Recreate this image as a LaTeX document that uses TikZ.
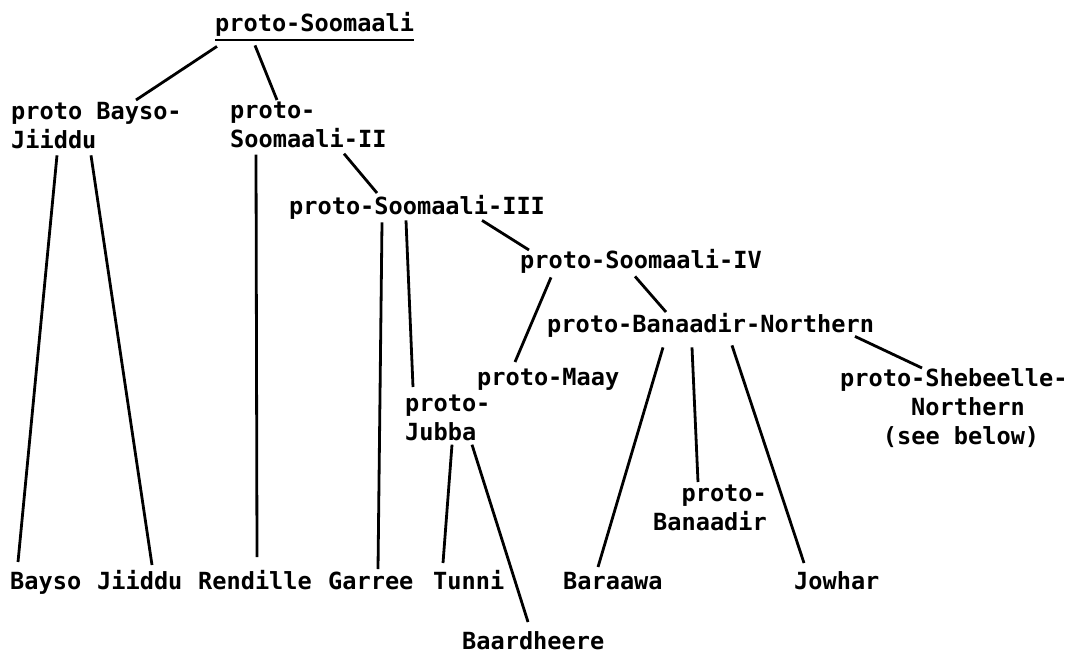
\documentclass[tikz,border=0pt]{standalone}
\usepackage{fontspec}
\newfontfamily\machine{DejaVu Sans Mono}
\usetikzlibrary{calc}

\tikzset{
  lbl/.style={font=\machine\bfseries\fontsize{23.6pt}{29pt}\selectfont,
    inner sep=0pt, anchor=north west, align=left,
    execute at begin node=\strut, execute at end node=\strut},
  branch/.style={line width=2.8pt}
}

\begin{document}
\begin{tikzpicture}[x=1pt,y=-1pt]
\useasboundingbox (0,0) rectangle (1073,654);

% Racine
\node[lbl] (soom) at (215,11) {proto-Soomaali};
\draw[line width=2pt] (soom.south west) -- (soom.south east);

% Noeuds intermédiaires
\node[lbl] (bj) at (11,102) {proto Bayso-\\Jiiddu};
\node[lbl] (s2) at (230,102) {proto-\\Soomaali-II};
\node[lbl] (s3) at (289,194) {proto-Soomaali-III};
\node[lbl] (s4) at (520,248) {proto-Soomaali-IV};
\node[lbl] (bn) at (547,312) {proto-Banaadir-Northern};
\node[lbl] (maay) at (477,365) {proto-Maay};
\node[lbl] (jubba) at (405,395) {proto-\\Jubba};
\node[lbl] (sheb) at (840,368) {proto-Shebeelle-\\\hspace*{3.01em}Northern\\\hspace*{1.81em}(see below)};
\node[lbl, align=right] (pban) at (653,485) {proto-\\Banaadir};

% Feuilles
\node[lbl] (bayso) at (10,569) {Bayso};
\node[lbl] (jiiddu) at (97,569) {Jiiddu};
\node[lbl] (rendille) at (198,569) {Rendille};
\node[lbl] (garree) at (328,569) {Garree};
\node[lbl] (tunni) at (433,569) {Tunni};
\node[lbl] (baraawa) at (563,569) {Baraawa};
\node[lbl] (jowhar) at (794,569) {Jowhar};
\node[lbl] (baard) at (462,629) {Baardheere};

% Branches
\draw[branch] ($(soom.south west)+(2,6)$) -- ($(bj.north west)+(125,-2)$);
\draw[branch] ($(soom.south west)+(40,5)$) -- ($(s2.north west)+(47,-2)$);
\draw[branch] ($(bj.south west)+(46,-2)$) -- ($(bayso.north west)+(8,-7)$);
\draw[branch] ($(bj.south west)+(80,-2)$) -- ($(jiiddu.north west)+(55,-4)$);
\draw[branch] ($(s2.south west)+(26,-2)$) -- ($(rendille.north west)+(59,-12)$);
\draw[branch] ($(s2.south west)+(114,-3)$) -- ($(s3.north west)+(88,-1)$);
\draw[branch] ($(s3.south west)+(93,-1)$) -- ($(garree.north west)+(50,0)$);
\draw[branch] ($(s3.south west)+(117,-3)$) -- ($(jubba.north west)+(8,-8)$);
\draw[branch] ($(s3.south west)+(193,-3)$) -- ($(s4.north west)+(9,2)$);
\draw[branch] ($(s4.south west)+(31,0)$) -- ($(maay.north west)+(38,-3)$);
\draw[branch] ($(s4.south west)+(115,-1)$) -- ($(bn.north west)+(119,0)$);
\draw[branch] ($(bn.south west)+(116,6)$) -- ($(baraawa.north west)+(35,-2)$);
\draw[branch] ($(bn.south west)+(145,6)$) -- ($(pban.north west)+(45,-3)$);
\draw[branch] ($(bn.south west)+(185,4)$) -- ($(jowhar.north west)+(10,-6)$);
\draw[branch] ($(bn.south west)+(308,-5)$) -- ($(sheb.north west)+(82,0)$);
\draw[branch] ($(jubba.south west)+(47,-5)$) -- ($(tunni.north west)+(10,-6)$);
\draw[branch] ($(jubba.south west)+(67,-5)$) -- ($(baard.north west)+(66,-7)$);

\end{tikzpicture}
\end{document}
